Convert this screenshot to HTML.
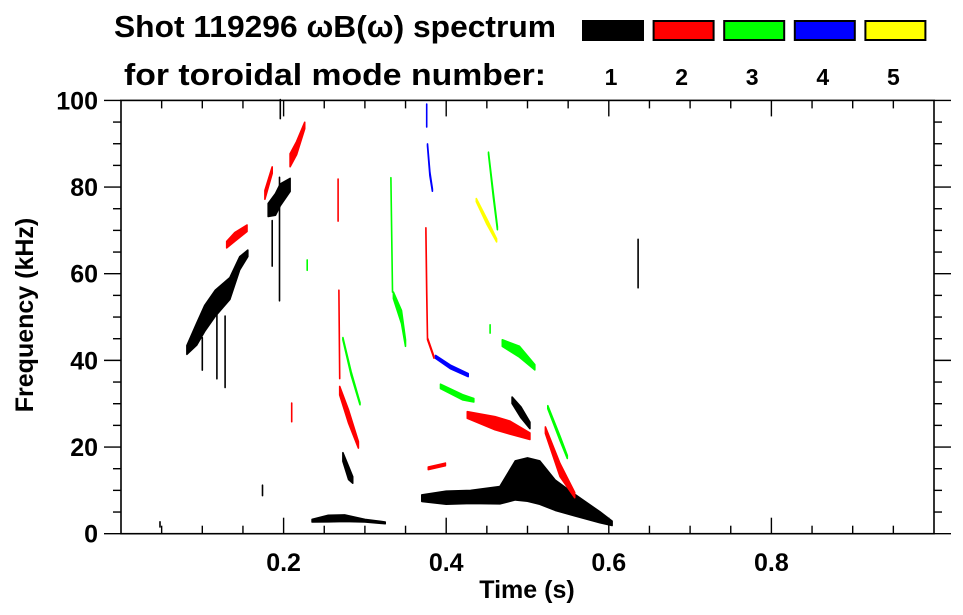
<!DOCTYPE html>
<html><head><meta charset="utf-8"><style>
body{margin:0;background:#fff;}
svg{display:block;font-family:"Liberation Sans",Arial,sans-serif;font-weight:bold;}
</style></head><body>
<svg id="chart" width="963" height="615" viewBox="0 0 963 615" xmlns="http://www.w3.org/2000/svg">
<text x="114" y="37" font-size="31" textLength="442" lengthAdjust="spacingAndGlyphs">Shot 119296 ωB(ω) spectrum</text>
<text x="124" y="85" font-size="31" textLength="422" lengthAdjust="spacingAndGlyphs">for toroidal mode number:</text>
<g id="legend"></g>
<g id="axes"></g>
<g id="marks"></g>
<text x="527" y="598" font-size="25" text-anchor="middle">Time (s)</text>
<text transform="translate(33,315) rotate(-90)" font-size="25" text-anchor="middle">Frequency (kHz)</text>
</svg>
<script>
const modeLabels=["1","2","3","4","5"];
const modeColors=["#000000","#ff0000","#00ff00","#0000ff","#ffff00"];
const xTicks=[0.2,0.4,0.6,0.8];
const yTicks=[0,20,40,60,80,100];
// streaks per mode: each is list of [time(s), freq(kHz), spread(kHz)]
const mode1=[
 [[0.081,42.4,2],[0.093,46,5],[0.103,49.7,6],[0.116,53.2,6],[0.134,56.6,5],[0.146,62.4,3],[0.156,64.7,1.5]],
 [[0.118,52,0.5],[0.118,36,0.5]],[[0.128,50,0.5],[0.128,34,0.5]],[[0.100,45,0.5],[0.100,38,0.5]],
 [[0.181,74.7,3],[0.190,76,5],[0.196,78.2,5],[0.208,80.5,3]],
 [[0.195,82,0.5],[0.195,54,0.5]],[[0.186,72,0.5],[0.186,62,0.5]],[[0.196,100,0.4],[0.196,96,0.4]],
 [[0.273,17.7,2],[0.280,14,3],[0.285,12.4,1.5]],
 [[0.048,2.5,0.5],[0.048,1.8,0.5]],[[0.174,11,0.4],[0.174,9,0.4]],
 [[0.235,3,0.6],[0.255,3.5,1.5],[0.275,3.6,1.5],[0.300,3,0.6],[0.325,2.5,0.4]],
 [[0.370,8.2,1.5],[0.400,8.3,3],[0.430,8.5,3],[0.466,8.9,4],[0.485,12.3,9],[0.500,12.5,10],[0.515,11.8,10],[0.534,8.9,7],[0.558,6.6,5],[0.589,3.8,2.5],[0.604,2.4,1]],
 [[0.481,30.8,1.5],[0.492,28,2.5],[0.503,25,1.5]],
 [[0.636,67.8,0.3],[0.636,56.9,0.3]]
];
const mode2=[
 [[0.130,66.7,1.5],[0.140,68.5,2],[0.155,70.5,1.5]],
 [[0.177,78.2,2],[0.186,83.9,1.5]],
 [[0.208,86.2,3],[0.216,89,3],[0.226,94.2,1.5]],
 [[0.267,81.6,0.5],[0.267,72.4,0.5]],
 [[0.268,56,0.4],[0.269,36,0.4]],
 [[0.269,33,2],[0.280,27,3],[0.292,20.5,1.5]],
 [[0.210,30,0.3],[0.210,26,0.3]],
 [[0.375,70,1.2],[0.376,56,1.2],[0.377,45,0.4],[0.385,40.7,0.4]],
 [[0.426,27.4,1.5],[0.460,25.5,3],[0.478,24.5,3],[0.503,22.5,1.5]],
 [[0.522,23.9,1.5],[0.540,14.7,3],[0.558,8.9,1.2]],
 [[0.378,15.1,0.6],[0.399,16,0.6]]
];
const mode3=[
 [[0.229,63,0.4],[0.229,61,0.4]],
 [[0.273,45,0.5],[0.283,37,0.8],[0.294,30,0.5]],
 [[0.332,82,0.3],[0.334,56,0.5]],
 [[0.335,55,1.5],[0.345,50,3],[0.350,44,1.5]],
 [[0.452,87.8,0.5],[0.458,78,1],[0.463,70.5,0.7]],
 [[0.393,34,1],[0.420,31.5,1.2],[0.434,30.8,0.8]],
 [[0.469,44,1.5],[0.490,42,2.5],[0.509,38.4,1.2]],
 [[0.525,29.2,0.7],[0.540,22,1],[0.549,17.7,0.7]],
 [[0.454,48,0.4],[0.454,46.5,0.4]]
];
const mode4=[
 [[0.376,99,0.3],[0.376,94,0.3]],
 [[0.377,89.7,0.5],[0.380,83,0.8],[0.383,79.3,0.5]],
 [[0.387,40.8,0.7],[0.405,38.5,0.8],[0.427,36.6,0.7]]
];
const mode5=[
 [[0.437,77,0.7],[0.450,72,1.2],[0.462,67.7,0.7]]
];
const modes=[mode1,mode2,mode3,mode4,mode5];

const X0=121,XW=813,Y0=533.7,YS=4.333;
const sx=t=>X0+t*XW, sy=f=>Y0-f*YS;
const NS="http://www.w3.org/2000/svg";
function mk(tag,attrs,parent){const e=document.createElementNS(NS,tag);for(const k in attrs)e.setAttribute(k,attrs[k]);parent.appendChild(e);return e;}
const axes=document.getElementById('axes');
const frame=mk('rect',{x:X0,y:sy(100),width:XW,height:Y0-sy(100),fill:'none',stroke:'#000','stroke-width':1.6},axes);


for(let i=1;i<20;i++){const t=i*0.05,maj=i%4===0,L=maj?16:8,x=sx(t);
 const a=mk('line',{x1:x,y1:Y0,x2:x,y2:Y0-L,stroke:'#000','stroke-width':1.4},axes);
 
 
 const b=mk('line',{x1:x,y1:sy(100),x2:x,y2:sy(100)+L,stroke:'#000','stroke-width':1.4},axes);
 
 }
for(let i=0;i<=20;i++){const f=i*5,maj=i%4===0,L=maj?17:8,y=sy(f);
 const a=mk('line',{x1:X0,y1:y,x2:X0-L,y2:y,stroke:'#000','stroke-width':1.4},axes);
 
 
 const b=mk('line',{x1:X0+XW,y1:y,x2:X0+XW+L,y2:y,stroke:'#000','stroke-width':1.4},axes);
 
 }
xTicks.forEach(v=>{const t=mk('text',{x:sx(v),y:571,'font-size':25,'text-anchor':'middle'},axes);t.textContent=v.toFixed(1);
 
 });
yTicks.forEach(v=>{const t=mk('text',{x:98,y:sy(v)+9,'font-size':25,'text-anchor':'end'},axes);t.textContent=v;
 
 });
const lg=document.getElementById('legend');
modeLabels.forEach((m,i)=>{const x=582+i*70.6;
 const r=mk('rect',{x:x+1,y:21,width:60,height:19,fill:modeColors[i],stroke:'#000','stroke-width':2},lg);
 
 
 const t=mk('text',{x:x+29,y:85,'font-size':23,'text-anchor':'middle'},lg);t.textContent=m;
 
 });
const marks=document.getElementById('marks');
modes.forEach((streaks,mi)=>{streaks.forEach(s=>{
 const top=s.map(p=>[sx(p[0]),sy(p[1]+p[2]/2)]);
 const bot=s.map(p=>[sx(p[0]),sy(p[1]-p[2]/2)]).reverse();
 const pts=top.concat(bot).map(p=>p[0].toFixed(1)+','+p[1].toFixed(1)).join(' ');
 const pg=mk('polygon',{points:pts,fill:modeColors[mi],stroke:modeColors[mi],'stroke-width':1.6,'stroke-linejoin':'round'},marks);
 
 
});});
</script>
</body></html>
